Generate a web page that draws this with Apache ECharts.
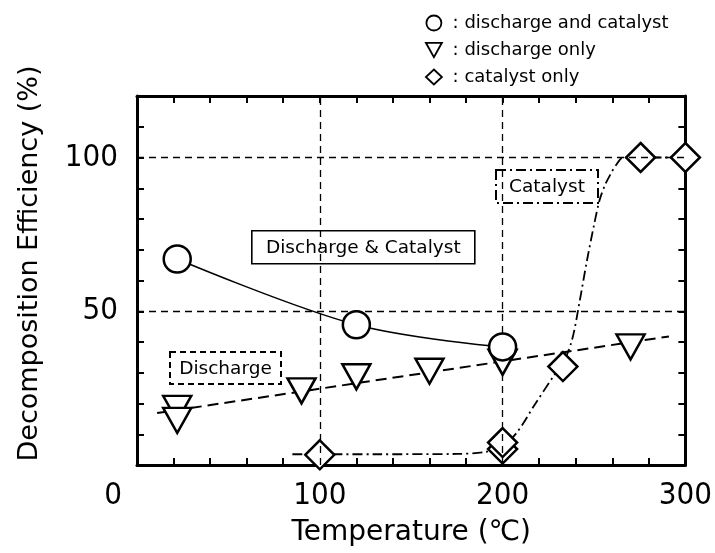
<!DOCTYPE html>
<html>
<head>
<meta charset="utf-8">
<script src="https://cdn.jsdelivr.net/npm/echarts@6/dist/echarts.min.js"></script>
<style>
html,body{margin:0;padding:0;background:#fff;}
#chart{width:715px;height:553px;}
</style>
</head>
<body>
<div id="chart"></div>
<script>
// ---- data ----
const seriesNames = ['discharge and catalyst', 'discharge only', 'catalyst only'];
const xTickLabels = [0, 100, 200, 300];
const yTickLabels = [50, 100];
// discharge and catalyst (circles)
const bothData = [[22, 67], [120, 45.6], [200, 38.4]];
// discharge only (inverted triangles)
const dischargeData = [[22, 18.4], [22, 14.5], [90, 24.1], [120, 28.7], [160, 30.5], [200, 33.4], [270, 38.4]];
// fitted straight line for discharge only
const dischargeFit = [[11, 16.9], [291, 41.8]];
// catalyst only (diamonds)
const catalystData = [[100, 3.3], [200, 5.2], [200, 7.3], [233, 32], [275.5, 100], [300, 100]];
// sigmoid guide curve for catalyst only
const catalystCurve = [[85, 3.5], [130, 3.5], [175, 3.6], [190, 4.2], [200, 6], [208, 10.7], [218, 20], [228, 29],
  [233, 33], [238, 40.7], [242, 52.7], [246, 66], [250, 78], [253, 86], [256, 91], [259, 94.5], [262, 97.5], [266, 100],
  [275.5, 100], [300, 100]];
const gridX = [100, 200];
const gridY = [50, 100];

const numFont = '"DejaVu Sans Condensed", "Liberation Sans", sans-serif';
const txtFont = '"DejaVu Sans", "Liberation Sans", sans-serif';
const triPath = 'path://M0,0 L20,0 L10,18 Z';
const markerStyle = {color: '#fff', borderColor: '#000', borderWidth: 2.5, opacity: 1};

const chart = echarts.init(document.getElementById('chart'), null, {renderer: 'canvas'});
const axisLine = {show: true, onZero: false, lineStyle: {color: '#000', width: 3}};
const tick = {show: true, inside: true, length: 7, lineStyle: {color: '#000', width: 2}};
const minor = {show: true, splitNumber: 5, length: 7, lineStyle: {color: '#000', width: 2}};

chart.setOption({
  animation: false,
  backgroundColor: '#fff',
  grid: {left: 137, right: 26, top: 96, bottom: 88, containLabel: false},
  legend: {
    orient: 'vertical', left: 420, top: 9, itemGap: 9, itemWidth: 16, itemHeight: 15,
    formatter: n => ' : ' + n,
    textStyle: {fontFamily: txtFont, fontSize: 18, color: '#000'},
    data: [
      {name: seriesNames[0], icon: 'circle'},
      {name: seriesNames[1], icon: triPath},
      {name: seriesNames[2], icon: 'diamond'}
    ],
    itemStyle: {color: '#fff', borderColor: '#000', borderWidth: 1.8, opacity: 1}
  },
  xAxis: [{
    type: 'value', position: 'bottom', min: 0, max: 300, interval: 100,
    axisLine, axisTick: tick, minorTick: minor, splitLine: {show: false},
    axisLabel: {
      margin: 15, color: '#000', fontFamily: numFont, fontSize: 31,
      formatter: v => xTickLabels.indexOf(v) < 0 ? '' : (v === 0 ? '{z|0}' : String(v)),
      rich: {z: {fontFamily: numFont, fontSize: 31, color: '#000', padding: [0, 48, 0, 0]}}
    },
    name: 'Temperature (℃)', nameLocation: 'middle', nameGap: 54,
    nameTextStyle: {fontFamily: txtFont, fontSize: 28, color: '#000'}
  }, {
    type: 'value', position: 'top', min: 0, max: 300, interval: 100,
    axisLine, axisTick: tick, minorTick: minor, splitLine: {show: false}, axisLabel: {show: false}
  }],
  yAxis: [{
    type: 'value', position: 'left', min: 0, max: 120, interval: 10,
    axisLine, axisTick: tick, splitLine: {show: false},
    axisLabel: {
      margin: 19, color: '#000', fontFamily: numFont, fontSize: 31,
      formatter: v => yTickLabels.indexOf(v) < 0 ? '' : String(v)
    },
    name: 'Decomposition Efficiency (%)', nameLocation: 'middle', nameGap: 94,
    nameTextStyle: {fontFamily: txtFont, fontSize: 27, color: '#000', padding: [0, 0, 0, 34]}
  }, {
    type: 'value', position: 'right', min: 0, max: 120, interval: 10,
    axisLine, axisTick: tick, splitLine: {show: false}, axisLabel: {show: false}
  }],
  series: [
    {
      type: 'line', data: [], silent: true, z: 1,
      markLine: {
        silent: true, symbol: 'none', label: {show: false},
        lineStyle: {color: '#000', type: [7, 5], width: 1.3},
        data: gridX.map(v => ({xAxis: v})).concat(gridY.map(v => ({yAxis: v})))
      }
    },
    {
      type: 'line', data: bothData, smooth: 0.35, symbol: 'none', silent: true, z: 2,
      lineStyle: {color: '#000', width: 1.5}
    },
    {
      type: 'line', data: dischargeFit, symbol: 'none', silent: true, z: 2,
      lineStyle: {color: '#000', width: 2, type: [11, 6]}
    },
    {
      type: 'line', data: catalystCurve, smooth: 0.3, symbol: 'none', silent: true, z: 2,
      lineStyle: {color: '#000', width: 1.8, type: [10, 4, 2, 4]}
    },
    {
      name: seriesNames[2], type: 'scatter', data: catalystData, symbol: 'diamond', symbolSize: 29,
      itemStyle: markerStyle, z: 4
    },
    {
      name: seriesNames[1], type: 'scatter', data: dischargeData, symbol: triPath, symbolSize: [28, 25],
      itemStyle: markerStyle, z: 5
    },
    {
      name: seriesNames[0], type: 'scatter', data: bothData, symbol: 'circle', symbolSize: 27,
      itemStyle: markerStyle, z: 6
    }
  ],
  graphic: [
    {
      type: 'group', left: 251, top: 230, z: 10,
      children: [
        {type: 'rect', shape: {x: 0, y: 0, width: 223, height: 33}, style: {fill: '#fff', stroke: '#000', lineWidth: 1.6}},
        {type: 'text', x: 111.5, y: 17, style: {text: 'Discharge & Catalyst', fontFamily: txtFont, fontSize: 18.5, fill: '#000', align: 'center', verticalAlign: 'middle'}}
      ]
    },
    {
      type: 'group', left: 169, top: 351, z: 10,
      children: [
        {type: 'rect', shape: {x: 0, y: 0, width: 111, height: 32}, style: {fill: '#fff', stroke: '#000', lineWidth: 2, lineDash: [6, 4]}},
        {type: 'text', x: 55.5, y: 17, style: {text: 'Discharge', fontFamily: txtFont, fontSize: 18.5, fill: '#000', align: 'center', verticalAlign: 'middle'}}
      ]
    },
    {
      type: 'group', left: 495, top: 169, z: 10,
      children: [
        {type: 'rect', shape: {x: 0, y: 0, width: 102, height: 33}, style: {fill: '#fff', stroke: '#000', lineWidth: 2, lineDash: [10, 4, 2, 4]}},
        {type: 'text', x: 51, y: 17, style: {text: 'Catalyst', fontFamily: txtFont, fontSize: 18.5, fill: '#000', align: 'center', verticalAlign: 'middle'}}
      ]
    }
  ]
});
</script>
</body>
</html>
